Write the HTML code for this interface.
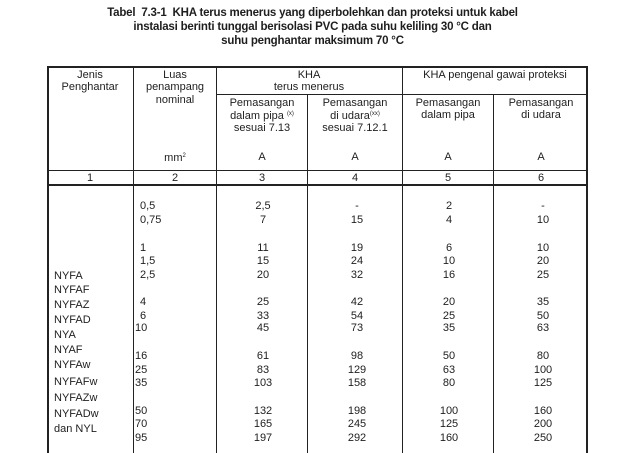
<!DOCTYPE html>
<html><head><meta charset="utf-8">
<style>
html,body{margin:0;padding:0;background:#fff;overflow:hidden;}
#root{position:relative;width:625px;height:453px;overflow:hidden;background:#fff;font-family:"Liberation Sans",Arial,sans-serif;color:#1e1e1e;}
.t{position:absolute;font-size:11px;line-height:12px;white-space:nowrap;transform:translate(-50%,-50%);}
.l{position:absolute;font-size:11px;line-height:12px;white-space:nowrap;transform:translateY(-50%);}
.ttl{position:absolute;left:0;width:625px;text-align:center;font-weight:bold;font-size:11.5px;letter-spacing:-0.2px;line-height:13px;}
.hl{position:absolute;height:1px;background:#222;}
.vl{position:absolute;width:1px;background:#222;}
sup{font-size:6px;vertical-align:4px;}
</style></head>
<body>
<div id="root">
<div class="ttl" style="top:7px">Tabel&nbsp; 7.3-1&nbsp; KHA terus menerus yang diperbolehkan dan proteksi untuk kabel</div>
<div class="ttl" style="top:21px">instalasi berinti tunggal berisolasi PVC pada suhu keliling 30 °C dan</div>
<div class="ttl" style="top:35px">suhu penghantar maksimum 70 °C</div>

<div class="hl" style="left:47px;width:541px;top:66px;height:2px"></div>
<div class="vl" style="left:47px;top:66px;height:387px;width:2px"></div>
<div class="vl" style="left:586px;top:66px;height:387px;width:2px"></div>
<div class="vl" style="left:133px;top:66px;height:387px"></div>
<div class="vl" style="left:216px;top:66px;height:387px"></div>
<div class="vl" style="left:307px;top:94px;height:359px"></div>
<div class="vl" style="left:402px;top:66px;height:387px"></div>
<div class="vl" style="left:493px;top:94px;height:359px"></div>
<div class="hl" style="left:216px;width:371px;top:94px"></div>
<div class="hl" style="left:47px;width:541px;top:170px"></div>
<div class="hl" style="left:47px;width:541px;top:184px;height:2px"></div>

<div class="t" style="left:90px;top:75px">Jenis</div>
<div class="t" style="left:90px;top:87px">Penghantar</div>
<div class="t" style="left:175px;top:75px">Luas</div>
<div class="t" style="left:175px;top:87px">penampang</div>
<div class="t" style="left:175px;top:100px">nominal</div>
<div class="t" style="left:309px;top:75px">KHA</div>
<div class="t" style="left:309px;top:87px">terus menerus</div>
<div class="t" style="left:495px;top:75px">KHA pengenal gawai proteksi</div>
<div class="t" style="left:262px;top:103px">Pemasangan</div>
<div class="t" style="left:262px;top:115px">dalam pipa <sup>(x)</sup></div>
<div class="t" style="left:262px;top:128px">sesuai 7.13</div>
<div class="t" style="left:355px;top:103px">Pemasangan</div>
<div class="t" style="left:355px;top:115px">di udara<sup>(xx)</sup></div>
<div class="t" style="left:355px;top:128px">sesuai 7.12.1</div>
<div class="t" style="left:448px;top:103px">Pemasangan</div>
<div class="t" style="left:448px;top:115px">dalam pipa</div>
<div class="t" style="left:541px;top:103px">Pemasangan</div>
<div class="t" style="left:541px;top:115px">di udara</div>
<div class="t" style="left:175px;top:157px">mm<sup>2</sup></div>
<div class="t" style="left:262px;top:157px">A</div>
<div class="t" style="left:355px;top:157px">A</div>
<div class="t" style="left:448px;top:157px">A</div>
<div class="t" style="left:541px;top:157px">A</div>
<div class="t" style="left:90px;top:178px">1</div>
<div class="t" style="left:175px;top:178px">2</div>
<div class="t" style="left:262px;top:178px">3</div>
<div class="t" style="left:355px;top:178px">4</div>
<div class="t" style="left:448px;top:178px">5</div>
<div class="t" style="left:541px;top:178px">6</div>
</div>
<script>
const luas = ["0,5","0,75","1","1,5","2,5","4","6","10","16","25","35","50","70","95"];
const pipa = ["2,5","7","11","15","20","25","33","45","61","83","103","132","165","197"];
const udara = ["-","15","19","24","32","42","54","73","98","129","158","198","245","292"];
const protPipa = ["2","4","6","10","16","20","25","35","50","63","80","100","125","160"];
const protUdara = ["-","10","10","20","25","35","50","63","80","100","125","160","200","250"];
const rowY = [206,220,248,261,275,302,316,328,356,370,383,411,424,438];
const names = ["NYFA","NYFAF","NYFAZ","NYFAD","NYA","NYAF","NYFAw","NYFAFw","NYFAZw","NYFADw","dan NYL"];
const nameY = [276,290,305,320,335,350,365,382,398,414,429];
const root = document.getElementById('root');
function add(cls, txt, x, y, nm){
  const d = document.createElement('div');
  d.className = cls; d.textContent = txt;
  d.style.left = x + 'px'; d.style.top = y + 'px';
  
  
  root.appendChild(d);
}
names.forEach((n,i)=>add('l', n, 54, nameY[i], 'conductor-type'));
luas.forEach((v,i)=>{
  const x = v.length >= 2 && v.indexOf(',') < 0 ? 135 : 140;
  add('l', v, x, rowY[i], 'cross-section-value');
  add('t', pipa[i], 263, rowY[i], 'kha-pipe-value');
  add('t', udara[i], 357, rowY[i], 'kha-air-value');
  add('t', protPipa[i], 449, rowY[i], 'protection-pipe-value');
  add('t', protUdara[i], 543, rowY[i], 'protection-air-value');
});
</script>
</body></html>
